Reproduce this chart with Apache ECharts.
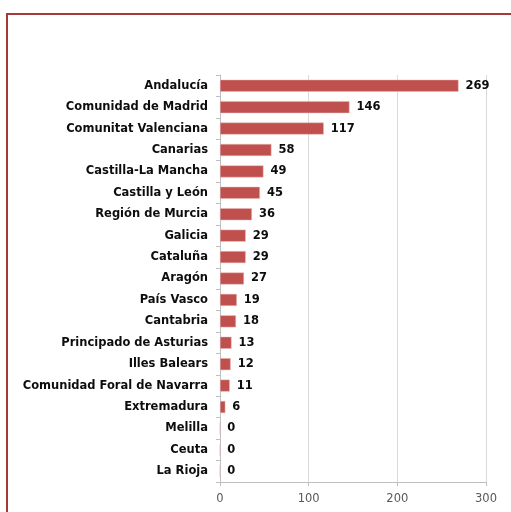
<!DOCTYPE html>
<html><head><meta charset="utf-8">
<script src="https://cdn.jsdelivr.net/npm/echarts@6/dist/echarts.min.js"></script>
<style>
html,body{margin:0;padding:0;background:#fff;overflow:hidden;}
#frame{position:absolute;left:6px;top:13px;width:700px;height:700px;border-left:2px solid #a4393a;border-top:2px solid #a4393a;}
#c{position:absolute;left:0;top:0;width:511px;height:512px;}
</style></head>
<body>
<div id="frame"></div>
<div id="c"></div>
<script>
const categories = ["Andalucía","Comunidad de Madrid","Comunitat Valenciana","Canarias","Castilla-La Mancha","Castilla y León","Región de Murcia","Galicia","Cataluña","Aragón","País Vasco","Cantabria","Principado de Asturias","Illes Balears","Comunidad Foral de Navarra","Extremadura","Melilla","Ceuta","La Rioja"];
const values = [269,146,117,58,49,45,36,29,29,27,19,18,13,12,11,6,0,0,0];
const xTicks = [0,100,200,300];

const chart = echarts.init(document.getElementById('c'), null, {renderer:'canvas'});
chart.setOption({
  animation:false,
  backgroundColor:'transparent',
  grid:{left:220,right:25,top:75,bottom:30,containLabel:false},
  xAxis:{
    type:'value',min:xTicks[0],max:xTicks[xTicks.length-1],interval:100,
    axisLine:{show:true,lineStyle:{color:'#bfbfbf',width:1}},
    axisTick:{show:true,length:4,lineStyle:{color:'#bfbfbf'}},
    splitLine:{show:true,lineStyle:{color:'#d9d9d9',width:1}},
    axisLabel:{color:'#595959',fontFamily:'DejaVu Sans',fontSize:11.5,margin:11}
  },
  yAxis:{
    type:'category',data:categories,inverse:true,
    axisLine:{show:true,lineStyle:{color:'#bfbfbf',width:1}},
    axisTick:{show:true,length:4,lineStyle:{color:'#bfbfbf'}},
    axisLabel:{color:'#0d0d0d',fontFamily:'DejaVu Sans',fontWeight:'bold',fontSize:11.5,margin:12}
  },
  series:[{
    type:'bar',data:values,barWidth:12,
    itemStyle:{color:'#c0504d',borderColor:'#e6b9b8',borderWidth:0.5},
    label:{show:true,position:'right',distance:7,color:'#0d0d0d',fontFamily:'DejaVu Sans',fontWeight:'bold',fontSize:11.5}
  }]
});
</script>
</body></html>
